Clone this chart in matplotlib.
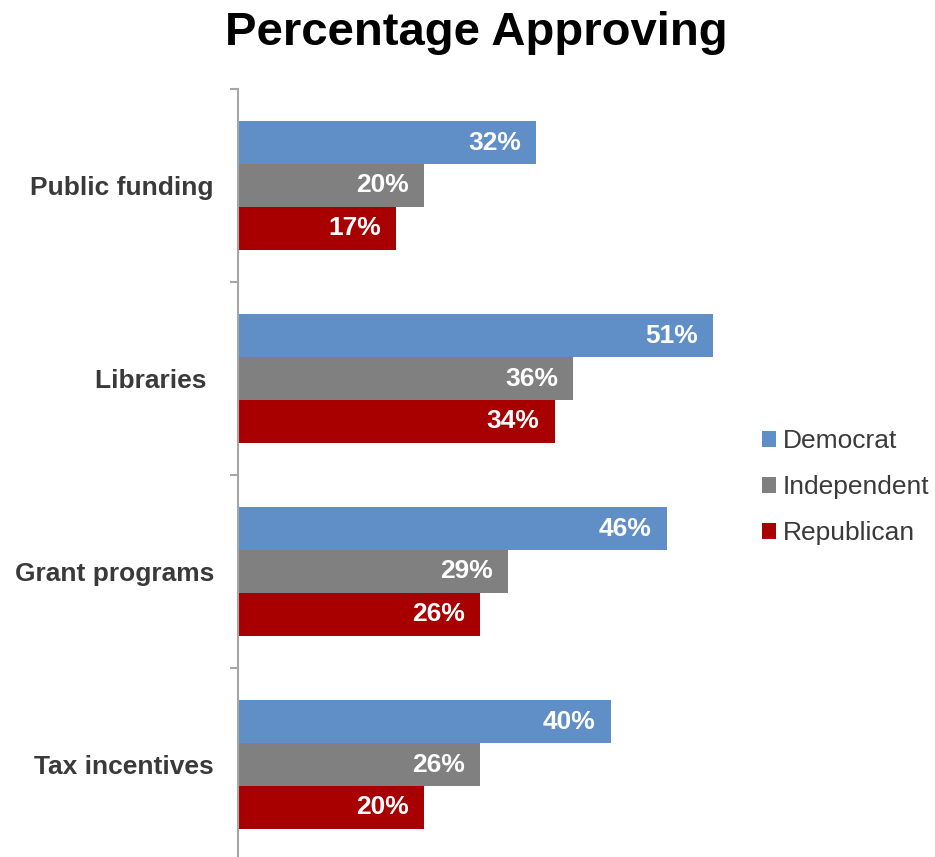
import matplotlib
matplotlib.use("Agg")
import matplotlib.pyplot as plt
import numpy as np

plt.rcParams['font.family'] = ['Liberation Sans', 'DejaVu Sans']

categories = ["Public funding", "Libraries ", "Grant programs", "Tax incentives"]
series_names = ["Democrat", "Independent", "Republican"]
democrat = [32, 51, 46, 40]
independent = [20, 36, 29, 26]
republican = [17, 34, 26, 20]
colors = ["#5F8FC6", "#808080", "#A80000"]

W, H = 935, 857
fig = plt.figure(figsize=(W / 100, H / 100), dpi=100)

ax_left = 237.5 / W
ax_top = 1 - 89 / H
ax_bottom = (H - 861) / H
ax_width = 513 / W
ax = fig.add_axes([ax_left, ax_bottom, ax_width, ax_top - ax_bottom])

y = np.arange(len(categories))
bar_h = 0.2225
offsets = [-bar_h, 0, bar_h]
for vals, off, col, name in zip([democrat, independent, republican], offsets, colors, series_names):
    bars = ax.barh(y + off, vals, height=bar_h, color=col, label=name, edgecolor='none')
    for b, v in zip(bars, vals):
        ax.text(b.get_width() - 1.6, b.get_y() + b.get_height() / 2, f"{v}%",
                ha='right', va='center', color='white', fontsize=19, fontweight='bold')

ax.set_xlim(0, 55)
ax.set_ylim(len(categories) - 0.5, -0.5)

for s in ['top', 'right', 'bottom']:
    ax.spines[s].set_visible(False)
ax.spines['left'].set_color('#A6A6A6')
ax.spines['left'].set_linewidth(1.5)
ax.xaxis.set_visible(False)

ax.set_yticks(y)
ax.set_yticklabels(categories, fontsize=19, fontweight='bold', color='#3A3A3A')
ax.tick_params(axis='y', which='major', length=0, pad=17)
ax.set_yticks(np.arange(len(categories) + 1) - 0.5, minor=True)
ax.tick_params(axis='y', which='minor', length=6, width=1.5, color='#A6A6A6', direction='out')

fig.text(476 / W, 1 - 45 / H, "Percentage Approving", ha='center', va='baseline',
         fontsize=34, fontweight='bold', color='black')

leg = fig.legend(loc='center left', bbox_to_anchor=(751 / W, 1 - 487 / H), frameon=False,
                 fontsize=19, handlelength=0.55, handleheight=0.55, handletextpad=0.25,
                 labelspacing=0.83, borderaxespad=0)
for t in leg.get_texts():
    t.set_color('#3A3A3A')

fig.savefig("out.png", dpi=100)
